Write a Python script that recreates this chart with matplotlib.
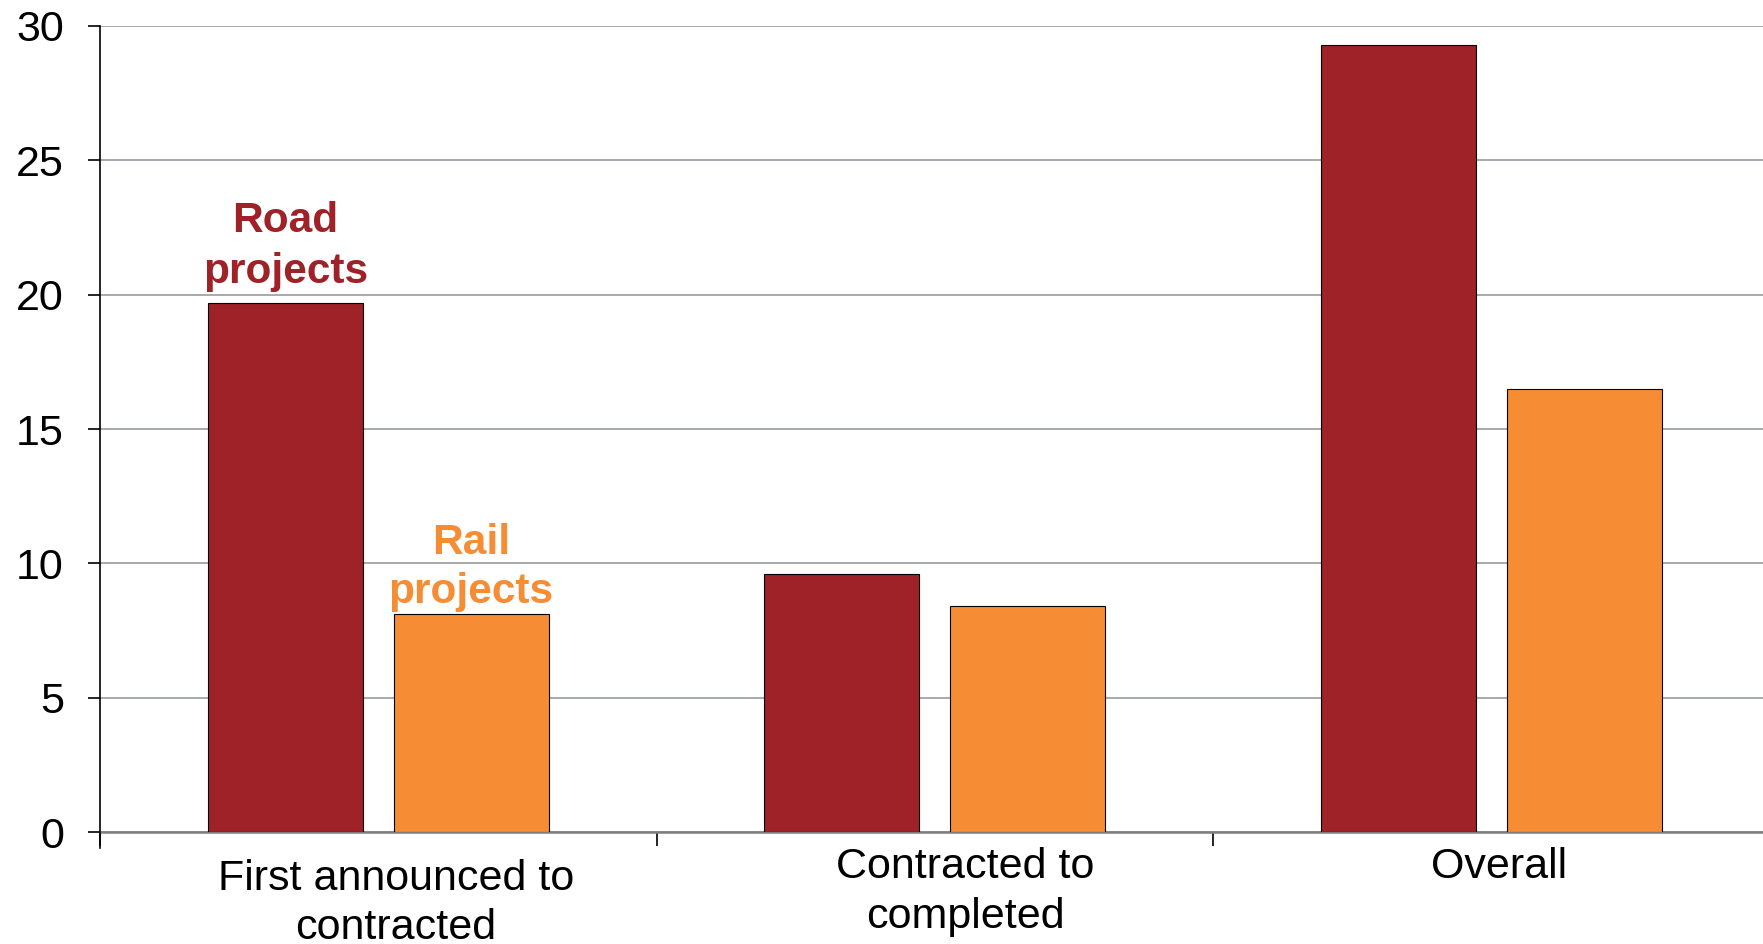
import numpy as np
import matplotlib.pyplot as plt

plt.rcParams['font.family'] = ['Liberation Sans', 'DejaVu Sans']

# Datos
categorias = ['First announced to\ncontracted', 'Contracted to\ncompleted', 'Overall']
road = [19.7, 9.6, 29.3]
rail = [8.1, 8.4, 16.5]
yticks = [0, 5, 10, 15, 20, 25, 30]

rojo = '#9E2227'
naranja = '#F68D35'

fig = plt.figure(figsize=(17.63, 9.44), dpi=100)
ax = fig.add_axes([0.0567, 0.1186, 0.9433, 0.8539])

x = np.arange(len(categorias))
w = 0.2785
off = 0.167
ax.bar(x - off, road, w, color=rojo, edgecolor='black', linewidth=0.8, zorder=3)
ax.bar(x + off, rail, w, color=naranja, edgecolor='black', linewidth=0.8, zorder=3)

ax.set_xlim(-0.5, 2.488)
ax.set_ylim(0, 30)
ax.set_yticks(yticks)
ax.tick_params(axis='y', labelsize=31, length=9, width=1.2, pad=17, color='black')
ax.yaxis.grid(True, color='#A6AAAF', linewidth=1.4, zorder=0)

# ticks del eje x en los límites de categoría
ax.set_xticks([-0.5, 0.5, 1.5])
ax.set_xticklabels([])
ax.tick_params(axis='x', length=10, width=1.2, color='black', direction='out')

# etiquetas de categoría (desplazadas como en la imagen)
desp = [(0.032, -0.014), (0.055, 0.0), (0.013, 0.0)]
for i, lab in enumerate(categorias):
    dx, dy = desp[i]
    ax.text(i + dx, -0.019 + dy, lab, transform=ax.get_xaxis_transform(),
            ha='center', va='top', fontsize=31, linespacing=1.3)

for s in ['top', 'right']:
    ax.spines[s].set_visible(False)
ax.spines['left'].set_linewidth(1.2)
ax.spines['left'].set_bounds(-0.6, 30)
ax.spines['bottom'].set_color('#7F7F7F')
ax.spines['bottom'].set_linewidth(1.8)
ax.spines['left'].set_zorder(4)

ax.text(0 - off, road[0] + 0.4, 'Road\nprojects', ha='center', va='bottom',
        fontsize=30.5, fontweight='bold', color=rojo, linespacing=1.35)
ax.text(0 + off, rail[0] + 0.08, 'Rail\nprojects', ha='center', va='bottom',
        fontsize=30.5, fontweight='bold', color=naranja, linespacing=1.3)

fig.savefig('out.png', dpi=100)
